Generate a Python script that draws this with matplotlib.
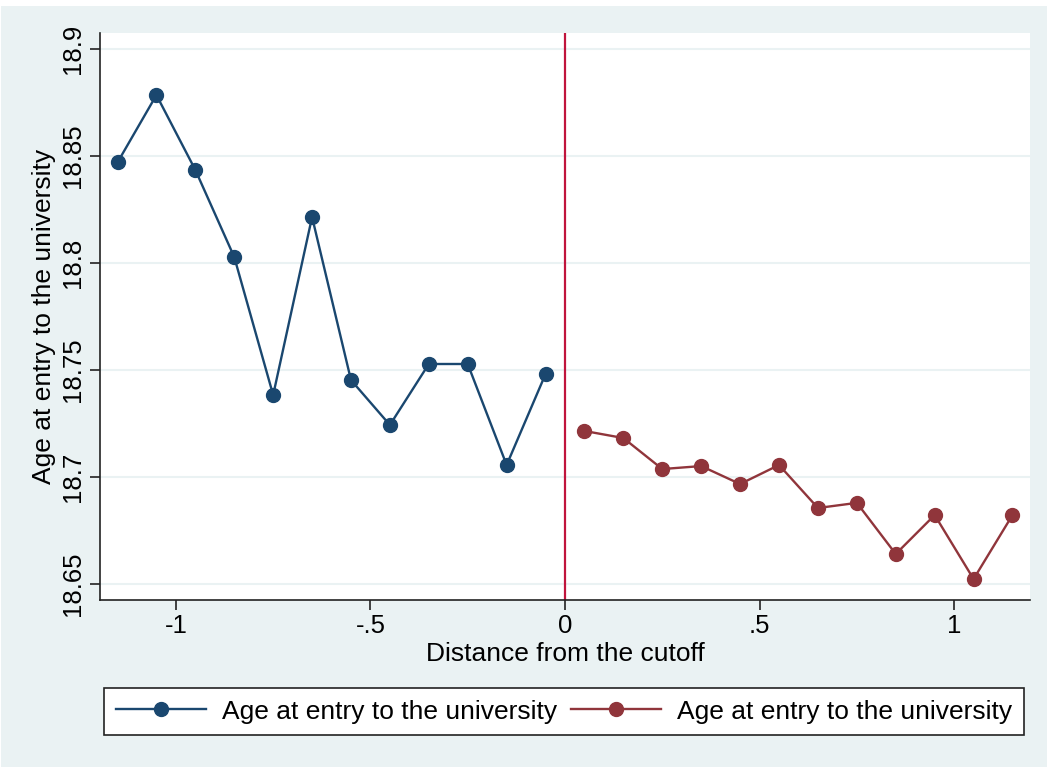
import matplotlib
matplotlib.use("Agg")
import matplotlib.pyplot as plt
from matplotlib.lines import Line2D
from matplotlib.patches import Rectangle

plt.rcParams['font.family'] = ['Liberation Sans', 'DejaVu Sans']

# Binned means of age at university entry, left and right of the cutoff
x_left = [-1.15, -1.05, -0.95, -0.85, -0.75, -0.65, -0.55, -0.45, -0.35, -0.25, -0.15, -0.05]
y_left = [18.847, 18.8785, 18.8435, 18.8028, 18.7383, 18.8215, 18.7453, 18.7243,
          18.7528, 18.7528, 18.7056, 18.7481]
x_right = [0.05, 0.15, 0.25, 0.35, 0.45, 0.55, 0.65, 0.75, 0.85, 0.95, 1.05, 1.15]
y_right = [18.7215, 18.7182, 18.7037, 18.7051, 18.6967, 18.7056, 18.6855, 18.6879,
           18.664, 18.6822, 18.6523, 18.6822]

xticks = [-1, -0.5, 0, 0.5, 1]
xticklabels = ["-1", "-.5", "0", ".5", "1"]
yticks = [18.65, 18.7, 18.75, 18.8, 18.85, 18.9]
yticklabels = ["18.65", "18.7", "18.75", "18.8", "18.85", "18.9"]
series_label = "Age at entry to the university"

BG = "#EAF2F3"
NAVY = "#1A476F"
MAROON = "#90353B"
CUTOFF = "#C0143C"
W, H = 1048, 767

fig = plt.figure(figsize=(W / 100, H / 100), dpi=100, facecolor="white")
# Graph region background with a thin white outer margin
fig.patches.append(Rectangle((1 / W, 0), (W - 2) / W, (H - 6) / H,
                             transform=fig.transFigure, facecolor=BG,
                             edgecolor="none", zorder=-10))

ax = fig.add_axes([100 / W, 1 - 600 / H, 930 / W, 567 / H])
ax.set_facecolor("white")

ax.plot(x_left, y_left, color=NAVY, lw=1.7, marker="o", ms=10, zorder=3)
ax.plot(x_right, y_right, color=MAROON, lw=1.7, marker="o", ms=10, zorder=3)
ax.axvline(0, color=CUTOFF, lw=1.6, zorder=2)

ax.set_xlim(-1.195, 1.195)
ax.set_ylim(18.6425, 18.9075)

ax.set_xticks(xticks)
ax.set_xticklabels(xticklabels)
ax.set_yticks(yticks)
ax.set_yticklabels(yticklabels, rotation=90, va="center")
ax.tick_params(axis="both", labelsize=18.5, length=7, width=1.2, color="#222222", pad=4)
ax.tick_params(axis="x", pad=3)

ax.grid(axis="y", color=BG, lw=1.5)
ax.set_axisbelow(True)

for side in ("top", "right"):
    ax.spines[side].set_visible(False)
for side in ("left", "bottom"):
    ax.spines[side].set_linewidth(1.2)
    ax.spines[side].set_color("#222222")

ax.set_xlabel("Distance from the cutoff", fontsize=19, labelpad=3)
ax.set_ylabel(series_label, fontsize=19)
ax.yaxis.set_label_coords(-0.047, 0.5)

handles = [
    Line2D([], [], color=NAVY, lw=1.7, marker="o", ms=10),
    Line2D([], [], color=MAROON, lw=1.7, marker="o", ms=10),
]
leg = fig.legend(handles, [series_label, series_label], loc="center",
                 bbox_to_anchor=(564 / W, 1 - 711.5 / H), ncol=2,
                 fontsize=19, frameon=True, fancybox=False, framealpha=1,
                 handlelength=3.4, handletextpad=0.6, columnspacing=0.55,
                 borderpad=0.45, borderaxespad=0)
leg.get_frame().set_edgecolor("#222222")
leg.get_frame().set_linewidth(1.2)

fig.savefig("out.png", dpi=100, facecolor="white")
